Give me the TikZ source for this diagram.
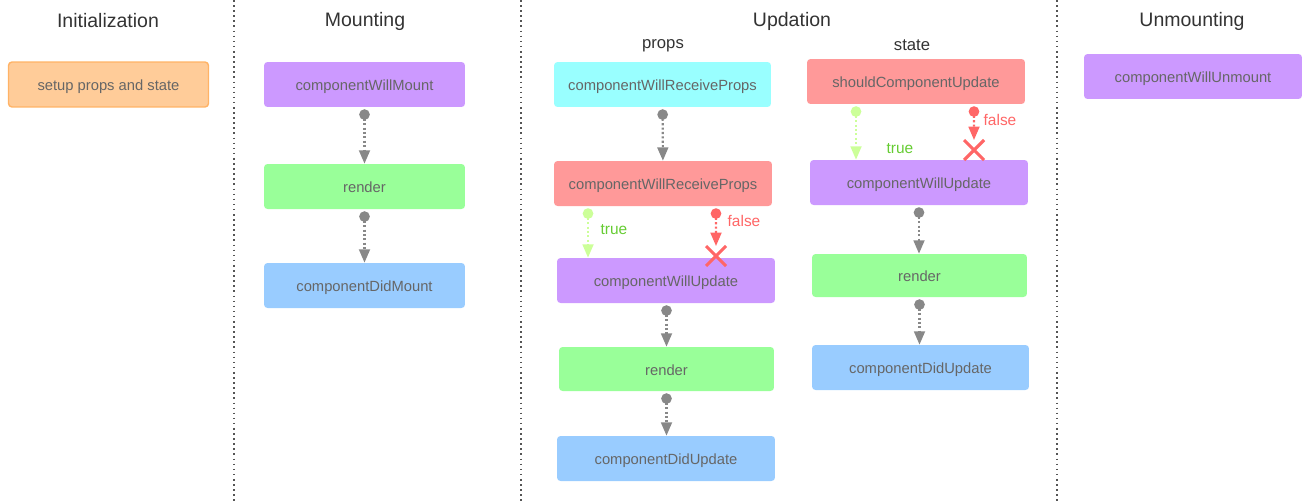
\documentclass[tikz,border=0pt]{standalone}
\usepackage{fontspec}
\setmainfont{Liberation Sans}
\usetikzlibrary{arrows.meta}

\definecolor{txtgray}{HTML}{666666}
\definecolor{titlegray}{HTML}{333333}
\definecolor{linkgray}{HTML}{888888}
\definecolor{sepgray}{HTML}{555555}
\definecolor{orangefill}{HTML}{FFCC99}
\definecolor{orangeedge}{HTML}{FFB366}
\definecolor{purplefill}{HTML}{CC99FF}
\definecolor{greenfill}{HTML}{99FF99}
\definecolor{bluefill}{HTML}{99CCFF}
\definecolor{cyanfill}{HTML}{99FFFF}
\definecolor{redfill}{HTML}{FF9999}
\definecolor{truegreen}{HTML}{66CC33}
\definecolor{truelink}{HTML}{CCFF99}
\definecolor{falsered}{HTML}{FF6666}

\tikzset{
  box/.style={rectangle, rounded corners=2pt, inner sep=0pt, minimum height=0.9cm,
    text height=0.72em, text depth=0pt,
    text=txtgray, font=\fontsize{8.4}{10}\selectfont},
  title/.style={text=titlegray, font=\fontsize{11.1}{13}\selectfont},
  subtitle/.style={text=titlegray, font=\fontsize{9.5}{11}\selectfont},
  flow/.style={draw=linkgray, line width=1.2pt, dash pattern=on 1.2pt off 1.3pt,
    {Circle[length=6pt]}-{Triangle[length=7.6pt,width=6.2pt]}, shorten <=1.1pt},
  tlink/.style={flow, draw=truelink},
  flink/.style={flow, draw=falsered},
  cond/.style={font=\fontsize{8.8}{10}\selectfont},
  cross/.style={draw=falsered, line width=1.8pt},
  sepline/.style={draw=sepgray, line width=0.9pt, dotted}
}

\begin{document}
\begin{tikzpicture}[x=0.02cm,y=-0.02cm]
\useasboundingbox (0,0) rectangle (1309,501);

% column separators
\draw[sepline] (234,0) -- (234,501);
\draw[sepline] (521,0) -- (521,501);
\draw[sepline] (1057,0) -- (1057,501);

% titles
\node[title] (tinit) at (108,21) {Initialization};
\node[title] (tmount) at (365,21) {Mounting};
\node[title] (tupd) at (792,21) {Updation};
\node[title] (tunmount) at (1192,21) {Unmounting};
\node[subtitle] (tprops) at (663,46) {props};
\node[subtitle] (tstate) at (912,45) {state};

% initialization
\node[box, fill=orangefill, draw=orangeedge, line width=0.8pt, minimum width=4.0cm] (setup) at (108.5,84.5) {setup props and state};

% mounting
\node[box, fill=purplefill, minimum width=4.02cm] (cwm) at (364.5,84.5) {componentWillMount};
\node[box, fill=greenfill, minimum width=4.02cm] (rnd1) at (364.5,186.5) {render};
\node[box, fill=bluefill, minimum width=4.02cm] (cdm) at (364.5,285.5) {componentDidMount};
\draw[flow] (cwm) -- (rnd1);
\draw[flow] (rnd1) -- (cdm);

% updation: props
\node[box, fill=cyanfill, minimum width=4.34cm] (crp1) at (662.5,84.5) {componentWillReceiveProps};
\node[box, fill=redfill, minimum width=4.36cm] (crp2) at (663,183.5) {componentWillReceiveProps};
\node[box, fill=purplefill, minimum width=4.36cm] (cwu1) at (666,280.5) {componentWillUpdate};
\node[box, fill=greenfill, minimum width=4.3cm, minimum height=0.88cm] (rnd2) at (666.5,369) {render};
\node[box, fill=bluefill, minimum width=4.36cm] (cdu1) at (666,458.5) {componentDidUpdate};
\draw[flow] (crp1) -- (crp2);
\draw[tlink] ([xshift=-1.5cm]crp2.south) -- ([xshift=-1.5cm]crp2.south |- cwu1.north);
\node[cond, text=truegreen] (t1) at (614,230) {true};
\coordinate (x1) at (716,256);
\draw[flink] ([xshift=1.06cm]crp2.south) -- ([yshift=0.2cm]x1);
\node[cond, text=falsered] (f1) at (744,221) {false};
\draw[cross] ([shift={(-10,-10)}]x1) -- ([shift={(10,10)}]x1);
\draw[cross] ([shift={(-10,10)}]x1) -- ([shift={(10,-10)}]x1);
\draw[flow] (cwu1.south -| rnd2) -- (rnd2);
\draw[flow] (rnd2) -- (cdu1.north -| rnd2);

% updation: state
\node[box, fill=redfill, minimum width=4.36cm] (scu) at (916,81.5) {shouldComponentUpdate};
\node[box, fill=purplefill, minimum width=4.36cm] (cwu2) at (919,182.5) {componentWillUpdate};
\node[box, fill=greenfill, minimum width=4.3cm, minimum height=0.86cm] (rnd3) at (919.5,275.5) {render};
\node[box, fill=bluefill, minimum width=4.34cm] (cdu2) at (920.5,367.5) {componentDidUpdate};
\draw[tlink] ([xshift=-1.2cm]scu.south) -- ([xshift=-1.2cm]scu.south |- cwu2.north);
\node[cond, text=truegreen] (t2) at (900,149) {true};
\coordinate (x2) at (974,150);
\draw[flink] ([xshift=1.16cm]scu.south) -- ([yshift=0.2cm]x2);
\node[cond, text=falsered] (f2) at (1000,120) {false};
\draw[cross] ([shift={(-10,-10)}]x2) -- ([shift={(10,10)}]x2);
\draw[cross] ([shift={(-10,10)}]x2) -- ([shift={(10,-10)}]x2);
\draw[flow] (cwu2) -- (rnd3.north -| cwu2);
\draw[flow] (rnd3) -- (cdu2.north -| rnd3);

% unmounting
\node[box, fill=purplefill, minimum width=4.36cm] (cwun) at (1193,76.5) {componentWillUnmount};
\end{tikzpicture}
\end{document}
